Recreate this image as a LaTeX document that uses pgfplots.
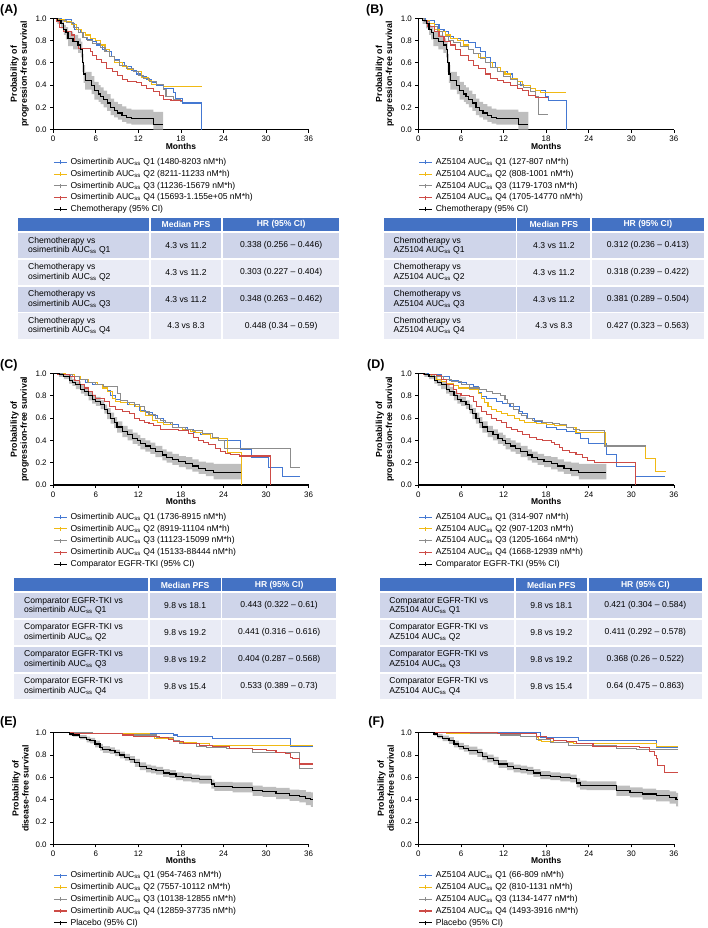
\documentclass[border=0pt]{standalone}
\usepackage{pgfplots}
\usepackage{pgfplotstable}
\pgfplotsset{compat=1.18}
\usepgfplotslibrary{fillbetween}
\usepackage{fontspec}
\setmainfont{Liberation Sans}
\definecolor{kmblue}{RGB}{68,120,210}
\definecolor{kmyellow}{RGB}{240,185,20}
\definecolor{kmgray}{RGB}{140,140,140}
\definecolor{kmred}{RGB}{205,75,70}
\definecolor{cigray}{RGB}{190,190,190}
\definecolor{hdrblue}{RGB}{68,114,196}
\definecolor{rowA}{RGB}{207,213,234}
\definecolor{rowB}{RGB}{233,235,245}
\newcommand{\auc}{AUC\textsubscript{ss}}
\newcommand{\tabfont}{\fontsize{8.6}{9.4}\selectfont}
\newcommand{\tableframe}[1]{%
 \fill[hdrblue] (\tx,#1) rectangle (\ta,#1+13.3);
 \fill[hdrblue] (\ta+1.7,#1) rectangle (\tb,#1+13.3);
 \fill[hdrblue] (\tb+1.7,#1) rectangle (\tc,#1+13.3);
 \node[white,font=\bfseries\tabfont,inner sep=0pt] at ({(\ta+1.7+\tb)/2},#1+6.9) {Median PFS};
 \node[white,font=\bfseries\tabfont,inner sep=0pt] at ({(\tb+1.7+\tc)/2},#1+6.9) {HR (95\% CI)};}
\newcommand{\trow}[5]{%
 \fill[#2] (\tx,#1) rectangle (\ta,#1+25.2);
 \fill[#2] (\ta+1.7,#1) rectangle (\tb,#1+25.2);
 \fill[#2] (\tb+1.7,#1) rectangle (\tc,#1+25.2);
 \node[anchor=west,align=left,font=\tabfont,inner sep=0pt] at (\ttx,#1+12.6) {#3};
 \node[font=\tabfont,inner sep=0pt] at ({(\ta+1.7+\tb)/2},#1+12.6) {#4};
 \node[font=\tabfont,inner sep=0pt] at ({(\tb+1.7+\tc)/2},#1+12.6) {#5};}
\pgfplotsset{
  kmline/.style={const plot, line width=1.05pt},
  km/.style={
    scale only axis, width=256pt, height=111.7pt,
    xmin=0, xmax=36, ymin=0, ymax=1,
    axis x line*=bottom, axis y line*=left,
    axis line style={line width=1.2pt},
    tick align=outside, major tick length=3pt,
    tick style={line width=0.8pt, black},
    xtick={0,6,...,36}, ytick={0,0.2,0.4,0.6,0.8,1},
    y tick label style={/pgf/number format/.cd, fixed, fixed zerofill, precision=1, /tikz/.cd},
    ticklabel style={font=\fontsize{8}{9}\selectfont},
    /pgf/number format/assume math mode=true,
    xlabel={Months},
    xlabel style={font=\bfseries\fontsize{8.5}{10}\selectfont, at={(axis description cs:0.5,-0.148)}, anchor=center},
    ylabel style={font=\bfseries\fontsize{8.8}{10}\selectfont, align=center},
    clip=false,
    legend cell align=left,
    legend image code/.code={\draw[##1] (0pt,0pt) -- (13pt,0pt); \draw[##1, line width=0.6pt] (6.5pt,-2pt) -- (6.5pt,2pt);},
    legend style={draw=none, fill=none, font=\fontsize{8.6}{10}\selectfont, anchor=north west, inner sep=0pt, row sep=1.3pt, column sep=2pt, nodes={inner sep=1pt, text height=6.5pt, text depth=2pt}},
  },
}
% ---------------- data: reference arm curves (t, survival, lower CI, upper CI) ----------------
\pgfplotstableread{
t s lo up
0 1 1 1
0.6 0.98 0.95 1
1.1 0.95 0.91 0.98
1.5 0.9 0.85 0.94
1.8 0.87 0.81 0.92
2.1 0.82 0.75 0.88
2.8 0.79 0.72 0.85
3.5 0.76 0.69 0.82
3.9 0.72 0.65 0.79
4.1 0.6 0.52 0.68
4.3 0.5 0.42 0.58
4.5 0.44 0.36 0.52
5.4 0.4 0.32 0.48
5.8 0.35 0.27 0.43
6.4 0.32 0.25 0.4
6.7 0.3 0.23 0.38
7.1 0.27 0.2 0.35
7.6 0.24 0.17 0.32
8.1 0.2 0.13 0.28
8.6 0.17 0.11 0.25
9.1 0.15 0.09 0.23
9.7 0.13 0.07 0.21
10.3 0.11 0.055 0.19
11 0.1 0.045 0.18
14.1 0.05 0 0.16
15.5 0.05 0 0.16
}\chemo
\pgfplotstableread{
t s lo up
0 1 1 1
0.85 0.99 0.97 1
1.5 0.97 0.95 0.99
2.25 0.94 0.91 0.97
2.7 0.92 0.89 0.95
3.2 0.9 0.86 0.93
3.9 0.86 0.82 0.9
4.4 0.84 0.8 0.88
5 0.8 0.76 0.84
5.5 0.77 0.73 0.81
6 0.75 0.71 0.79
6.7 0.72 0.68 0.76
7.2 0.68 0.64 0.72
7.6 0.64 0.59 0.69
8.1 0.6 0.55 0.65
8.6 0.56 0.51 0.61
9 0.52 0.47 0.57
9.75 0.48 0.43 0.53
10.5 0.45 0.4 0.5
11.2 0.42 0.37 0.47
11.9 0.4 0.35 0.45
12.3 0.37 0.32 0.42
13 0.35 0.3 0.4
13.7 0.33 0.28 0.38
14.4 0.3 0.25 0.35
15.4 0.27 0.22 0.32
16 0.25 0.2 0.3
16.8 0.23 0.18 0.28
17.7 0.21 0.16 0.26
18.7 0.19 0.14 0.25
19.6 0.17 0.12 0.23
20.5 0.15 0.1 0.21
21.5 0.13 0.08 0.2
22.6 0.11 0.05 0.19
26.5 0.11 0.05 0.19
}\comp
\pgfplotstableread{
t s lo up
0 1 1 1
2.3 0.99 0.975 1
2.8 0.98 0.965 0.995
3.75 0.96 0.94 0.98
4.7 0.94 0.915 0.965
5.2 0.93 0.905 0.955
5.9 0.9 0.87 0.93
6.6 0.87 0.84 0.9
7 0.85 0.82 0.88
8 0.84 0.81 0.87
8.7 0.82 0.79 0.85
9.4 0.8 0.77 0.83
10.1 0.78 0.75 0.81
10.8 0.76 0.73 0.79
11.5 0.73 0.695 0.765
12.2 0.7 0.665 0.735
13.1 0.68 0.645 0.715
13.8 0.67 0.635 0.705
14.5 0.66 0.625 0.695
15.5 0.64 0.605 0.675
16.4 0.63 0.595 0.665
17.3 0.61 0.575 0.645
18.3 0.6 0.565 0.635
19.5 0.59 0.555 0.625
20.6 0.58 0.545 0.615
22.3 0.54 0.5 0.58
22.7 0.52 0.48 0.56
25.3 0.51 0.465 0.555
28.1 0.48 0.435 0.525
29.5 0.47 0.425 0.515
31.4 0.455 0.405 0.505
33.3 0.44 0.39 0.49
34.7 0.43 0.375 0.485
35.6 0.41 0.35 0.47
36.3 0.4 0.335 0.465
36.6 0.4 0.335 0.465
}\placE
\pgfplotstableread{
t s lo up
0 1 1 1
2.2 0.99 0.975 1
2.7 0.97 0.95 0.99
3.4 0.95 0.925 0.975
4.3 0.93 0.9 0.96
5 0.9 0.87 0.93
5.7 0.88 0.85 0.91
6.4 0.86 0.83 0.89
7.1 0.84 0.805 0.875
8.3 0.82 0.785 0.855
9 0.79 0.755 0.825
9.7 0.77 0.735 0.805
10.6 0.75 0.715 0.785
11.3 0.72 0.685 0.755
12.5 0.7 0.665 0.735
13.4 0.68 0.645 0.715
14.4 0.67 0.635 0.705
15.3 0.66 0.625 0.695
16.2 0.64 0.605 0.675
17.2 0.62 0.585 0.655
18.6 0.61 0.575 0.645
20 0.6 0.565 0.635
21.4 0.59 0.555 0.625
22.3 0.55 0.51 0.59
22.8 0.53 0.49 0.57
23.7 0.525 0.485 0.565
27.9 0.48 0.435 0.525
29.8 0.465 0.42 0.51
31.6 0.45 0.4 0.5
33.5 0.435 0.385 0.485
35.4 0.42 0.365 0.475
36.3 0.4 0.34 0.46
36.6 0.4 0.335 0.46
}\placF
\begin{document}
\begin{tikzpicture}
\path (0,0) rectangle (709pt,-928pt);
% ================= (A) =================
\begin{axis}[km, at={(53.3pt,-130pt)}, anchor=south west,
  ylabel={Probability of\\progression-free survival},
  legend style={at={(0,-0.243)}}]
\addplot[name path=ua, draw=none, const plot, forget plot] table[x=t,y=up] {\chemo};
\addplot[name path=la, draw=none, const plot, forget plot] table[x=t,y=lo] {\chemo};
\addplot[fill=cigray, draw=none, forget plot] fill between[of=ua and la];
\addplot[kmline, kmblue] coordinates {(0,1) (1.2,0.99) (2.6,0.95) (3,0.9) (3.8,0.87) (4.2,0.83) (4.7,0.81) (5.6,0.79) (6.1,0.76) (7,0.72) (7.5,0.7) (8.2,0.66) (8.7,0.63) (9.4,0.6) (10.1,0.57) (11,0.53) (11.7,0.5) (12.4,0.48) (13.1,0.45) (13.8,0.42) (14.5,0.4) (15.5,0.37) (16.9,0.33) (17.3,0.28) (18.2,0.24) (20.9,0.24) (20.9,0)};
\addlegendentry{Osimertinib \auc{} Q1 (1480-8203 nM*h)}
\addplot[kmline, kmyellow] coordinates {(0,1) (0.7,0.99) (1.6,0.97) (2.6,0.94) (3.3,0.9) (4,0.87) (4.5,0.85) (5.2,0.82) (5.9,0.8) (6.6,0.76) (7.3,0.72) (8,0.66) (8.7,0.6) (9.8,0.57) (10.5,0.54) (11.3,0.52) (12.4,0.47) (13.4,0.44) (13.8,0.41) (15.5,0.39) (20.9,0.39)};
\addlegendentry{Osimertinib \auc{} Q2 (8211-11233 nM*h)}
\addplot[kmline, kmgray] coordinates {(0,1) (0.9,0.98) (1.9,0.96) (2.8,0.92) (3.5,0.87) (4.2,0.83) (4.9,0.8) (5.6,0.77) (6.6,0.74) (7.3,0.7) (8,0.66) (8.7,0.62) (9.4,0.58) (10.3,0.55) (11.3,0.52) (12,0.49) (12.7,0.46) (13.6,0.43) (14.5,0.41) (15.5,0.36) (15.9,0.3) (16.9,0.27) (18,0.25) (18.2,0.25)};
\addlegendentry{Osimertinib \auc{} Q3 (11236-15679 nM*h)}
\addplot[kmline, kmred] coordinates {(0,1) (0.5,0.97) (0.9,0.92) (1.4,0.88) (2.6,0.85) (3,0.79) (3.5,0.73) (5.2,0.7) (5.6,0.67) (6.1,0.63) (6.8,0.6) (7.5,0.55) (8.4,0.52) (9.1,0.49) (9.8,0.45) (10.5,0.43) (11.7,0.42) (12.4,0.4) (13.1,0.37) (14.1,0.34) (15,0.31) (15.5,0.27) (16.6,0.26) (18.2,0.26)};
\addlegendentry{Osimertinib \auc{} Q4 (15693-1.155e+05 nM*h)}
\addplot[kmline, black, line width=1.2pt] table[x=t,y=s] {\chemo};
\addlegendentry{Chemotherapy (95\% CI)}
\end{axis}
% ================= (B) =================
\begin{axis}[km, at={(419.3pt,-130pt)}, anchor=south west,
  ylabel={Probability of\\progression-free survival},
  legend style={at={(0,-0.243)}}]
\addplot[name path=ub, draw=none, const plot, forget plot] table[x=t,y=up] {\chemo};
\addplot[name path=lb, draw=none, const plot, forget plot] table[x=t,y=lo] {\chemo};
\addplot[fill=cigray, draw=none, forget plot] fill between[of=ub and lb];
\addplot[kmline, kmblue] coordinates {(0,1) (1,0.98) (2.2,0.94) (2.9,0.9) (3.6,0.88) (4.3,0.84) (5,0.82) (5.9,0.8) (7.1,0.78) (8,0.74) (8.7,0.7) (9.4,0.65) (10.1,0.6) (10.8,0.56) (11.5,0.52) (12.5,0.5) (13.2,0.46) (13.9,0.43) (14.4,0.4) (15.8,0.37) (16.5,0.35) (17.9,0.3) (18.3,0.26) (20.8,0.26) (20.8,0)};
\addlegendentry{AZ5104 \auc{} Q1 (127-807 nM*h)}
\addplot[kmline, kmyellow] coordinates {(0,1) (0.8,0.98) (1.5,0.95) (2.2,0.9) (2.9,0.88) (3.8,0.85) (4.5,0.82) (5.5,0.8) (6.4,0.76) (7.1,0.72) (7.8,0.68) (8.5,0.65) (9.4,0.6) (10.4,0.56) (11.5,0.52) (12.2,0.5) (13,0.46) (13.9,0.43) (14.6,0.4) (15.8,0.37) (16.5,0.35) (17.2,0.33) (20.8,0.33)};
\addlegendentry{AZ5104 \auc{} Q2 (808-1001 nM*h)}
\addplot[kmline, kmgray] coordinates {(0,1) (0.8,0.97) (1.5,0.93) (2.7,0.88) (3.4,0.84) (4.3,0.8) (5,0.78) (5.9,0.75) (7.1,0.72) (7.8,0.68) (8.7,0.64) (9.4,0.6) (10.1,0.56) (11.1,0.52) (12,0.48) (13,0.45) (13.9,0.41) (14.8,0.38) (15.8,0.34) (16.5,0.3) (16.9,0.14) (18.3,0.14)};
\addlegendentry{AZ5104 \auc{} Q3 (1179-1703 nM*h)}
\addplot[kmline, kmred] coordinates {(0,1) (0.6,0.98) (1.3,0.93) (2.2,0.88) (2.9,0.84) (3.6,0.79) (4.5,0.76) (5.2,0.72) (5.9,0.67) (7.1,0.62) (7.8,0.58) (8.5,0.55) (9.4,0.5) (10.1,0.46) (11.1,0.44) (12,0.42) (13,0.4) (13.9,0.37) (14.6,0.35) (15.5,0.31) (16.5,0.29) (18.3,0.29)};
\addlegendentry{AZ5104 \auc{} Q4 (1705-14770 nM*h)}
\addplot[kmline, black, line width=1.2pt] table[x=t,y=s] {\chemo};
\addlegendentry{Chemotherapy (95\% CI)}
\end{axis}
% ================= (C) =================
\begin{axis}[km, at={(53.3pt,-486pt)}, anchor=south west,
  ylabel={Probability of\\progression-free survival},
  legend style={at={(0,-0.24)}}]
\addplot[name path=uc, draw=none, const plot, forget plot] table[x=t,y=up] {\comp};
\addplot[name path=lc, draw=none, const plot, forget plot] table[x=t,y=lo] {\comp};
\addplot[fill=cigray, draw=none, forget plot] fill between[of=uc and lc];
\addplot[kmline, kmblue] coordinates {(0,1) (1.3,0.99) (2.5,0.97) (3.7,0.95) (4.6,0.92) (5.5,0.9) (6.9,0.88) (7.6,0.85) (8.1,0.8) (8.8,0.77) (9.5,0.74) (10.5,0.72) (11.4,0.7) (12.1,0.67) (13,0.65) (14,0.62) (14.7,0.6) (15.6,0.56) (16.5,0.54) (17.7,0.52) (18.9,0.5) (19.8,0.47) (20.8,0.45) (22.2,0.42) (23.3,0.4) (26.4,0.32) (28,0.25) (30.4,0.16) (32.3,0.08) (34.8,0.08)};
\addlegendentry{Osimertinib \auc{} Q1 (1736-8915 nM*h)}
\addplot[kmline, kmyellow] coordinates {(0,1) (1.8,0.99) (3,0.97) (3.9,0.95) (5,0.92) (6.2,0.9) (6.9,0.87) (7.6,0.84) (8.3,0.78) (8.8,0.75) (9.5,0.74) (10.7,0.72) (11.6,0.7) (12.3,0.66) (13,0.62) (14,0.58) (14.7,0.56) (15.6,0.54) (16.8,0.52) (18.2,0.5) (19.4,0.48) (20.1,0.47) (21,0.45) (22.2,0.42) (24.5,0.29) (26.5,0.29) (26.5,0)};
\addlegendentry{Osimertinib \auc{} Q2 (8919-11104 nM*h)}
\addplot[kmline, kmgray] coordinates {(0,1) (1.3,0.99) (2.7,0.97) (3.7,0.95) (4.8,0.92) (6,0.9) (7.1,0.88) (9,0.82) (9.5,0.76) (10.5,0.74) (11.4,0.72) (12.1,0.7) (12.8,0.66) (13.5,0.63) (14.4,0.6) (15.1,0.58) (15.8,0.56) (16.8,0.52) (18.7,0.5) (19.6,0.49) (21,0.46) (22.4,0.43) (23.3,0.4) (24.2,0.33) (33.4,0.33) (33.4,0.16) (34.8,0.16)};
\addlegendentry{Osimertinib \auc{} Q3 (11123-15099 nM*h)}
\addplot[kmline, kmred] coordinates {(0,1) (0.6,0.99) (2.25,0.97) (3,0.94) (3.7,0.9) (4.4,0.87) (5,0.84) (5.5,0.8) (6,0.78) (7.2,0.75) (7.9,0.7) (8.8,0.68) (9.75,0.66) (10.7,0.64) (11.4,0.6) (12.1,0.58) (12.8,0.56) (13.5,0.55) (14.2,0.53) (15.1,0.5) (17.7,0.49) (19.1,0.46) (19.8,0.43) (20.5,0.4) (21.2,0.38) (21.9,0.36) (22.9,0.33) (23.6,0.3) (24.3,0.28) (25,0.27) (26.2,0.26) (30.6,0.26) (30.6,0)};
\addlegendentry{Osimertinib \auc{} Q4 (15133-88444 nM*h)}
\addplot[kmline, black, line width=1.2pt] table[x=t,y=s] {\comp};
\addlegendentry{Comparator EGFR-TKI (95\% CI)}
\end{axis}
% ================= (D) =================
\begin{axis}[km, at={(419.3pt,-486pt)}, anchor=south west,
  ylabel={Probability of\\progression-free survival},
  legend style={at={(0,-0.24)}}]
\addplot[name path=ud, draw=none, const plot, forget plot] table[x=t,y=up] {\comp};
\addplot[name path=ld, draw=none, const plot, forget plot] table[x=t,y=lo] {\comp};
\addplot[fill=cigray, draw=none, forget plot] fill between[of=ud and ld];
\addplot[kmline, kmblue] coordinates {(0,1) (1.4,0.99) (3.2,0.97) (4.4,0.94) (5.6,0.92) (6.8,0.9) (7.7,0.88) (8.4,0.83) (8.9,0.79) (9.6,0.78) (11,0.75) (11.9,0.73) (12.9,0.7) (14.2,0.66) (14.7,0.64) (15.4,0.6) (16.4,0.57) (17.3,0.55) (18,0.52) (19.4,0.5) (20.8,0.48) (22.2,0.46) (22.8,0.42) (24,0.37) (26.5,0.27) (27.9,0.17) (30.6,0.08) (34.8,0.08)};
\addlegendentry{AZ5104 \auc{} Q1 (314-907 nM*h)}
\addplot[kmline, kmyellow] coordinates {(0,1) (0.7,0.99) (1.9,0.97) (2.6,0.95) (3.3,0.93) (4,0.91) (4.9,0.89) (5.6,0.87) (7.2,0.86) (8.4,0.82) (8.9,0.78) (9.3,0.74) (9.8,0.7) (10.3,0.68) (11,0.66) (11.7,0.64) (12.6,0.62) (13.6,0.6) (14.3,0.58) (15,0.56) (16.6,0.55) (18,0.54) (19.2,0.53) (20.8,0.52) (22.2,0.47) (26.4,0.35) (32,0.24) (33.4,0.12) (34.9,0.12)};
\addlegendentry{AZ5104 \auc{} Q2 (907-1203 nM*h)}
\addplot[kmline, kmgray] coordinates {(0,1) (1.2,0.99) (2.3,0.97) (3.5,0.95) (4.7,0.93) (6.1,0.9) (7.2,0.87) (8.6,0.86) (9.6,0.84) (10.5,0.82) (11.5,0.8) (12.2,0.77) (12.6,0.73) (13.4,0.68) (14.1,0.64) (14.5,0.62) (15.2,0.6) (16.1,0.58) (17.5,0.56) (18.9,0.55) (19.9,0.54) (20.8,0.52) (21.8,0.5) (22.7,0.49) (26.2,0.35) (32.1,0.35)};
\addlegendentry{AZ5104 \auc{} Q3 (1205-1664 nM*h)}
\addplot[kmline, kmred] coordinates {(0,1) (0.7,0.99) (2.6,0.98) (3.3,0.95) (4,0.9) (4.9,0.86) (5.4,0.82) (6,0.8) (7.2,0.79) (7.7,0.75) (8.2,0.7) (8.9,0.66) (9.6,0.63) (10.3,0.6) (11,0.58) (11.7,0.56) (12.4,0.52) (13.1,0.5) (14,0.48) (14.7,0.45) (15.7,0.43) (16.6,0.41) (17.5,0.4) (18.7,0.38) (19.2,0.36) (19.9,0.34) (20.3,0.31) (21.3,0.29) (22.2,0.27) (23.1,0.25) (23.8,0.22) (24.8,0.2) (30.6,0.2) (30.6,0)};
\addlegendentry{AZ5104 \auc{} Q4 (1668-12939 nM*h)}
\addplot[kmline, black, line width=1.2pt] table[x=t,y=s] {\comp};
\addlegendentry{Comparator EGFR-TKI (95\% CI)}
\end{axis}
% ================= (E) =================
\begin{axis}[km, at={(53.3pt,-846pt)}, anchor=south west,
  ylabel={Probability of\\disease-free survival},
  legend style={at={(0,-0.233)}}]
\addplot[name path=ue, draw=none, const plot, forget plot] table[x=t,y=up] {\placE};
\addplot[name path=le, draw=none, const plot, forget plot] table[x=t,y=lo] {\placE};
\addplot[fill=cigray, draw=none, forget plot] fill between[of=ue and le];
\addplot[kmline, kmblue] coordinates {(0,1) (5,0.99) (16.9,0.98) (17.5,0.97) (22.5,0.945) (33.5,0.873) (36.6,0.873)};
\addlegendentry{Osimertinib \auc{} Q1 (954-7463 nM*h)}
\addplot[kmline, kmyellow] coordinates {(0,1) (4,0.99) (13.6,0.97) (14.3,0.95) (16.9,0.92) (17.8,0.91) (20.2,0.9) (22,0.89) (36.6,0.89)};
\addlegendentry{Osimertinib \auc{} Q2 (7557-10112 nM*h)}
\addplot[kmline, kmgray] coordinates {(0,1) (5.6,0.99) (9.8,0.98) (14.5,0.96) (16.9,0.93) (17.8,0.9) (20.2,0.88) (21.6,0.87) (24.4,0.86) (28.1,0.82) (34.7,0.68) (36.6,0.68)};
\addlegendentry{Osimertinib \auc{} Q3 (10138-12855 nM*h)}
\addplot[kmline, kmred] coordinates {(0,1) (2.8,0.99) (9.8,0.98) (11.25,0.97) (15,0.96) (16.2,0.94) (16.9,0.92) (18.3,0.9) (20.6,0.89) (22.5,0.88) (24.8,0.86) (28.1,0.85) (30,0.84) (31.4,0.82) (32.8,0.81) (33.5,0.78) (33.75,0.77) (34.7,0.72) (36.6,0.72)};
\addlegendentry{Osimertinib \auc{} Q4 (12859-37735 nM*h)}
\addplot[kmline, black, line width=1.2pt] table[x=t,y=s] {\placE};
\addlegendentry{Placebo (95\% CI)}
\end{axis}
% ================= (F) =================
\begin{axis}[km, at={(419.3pt,-846pt)}, anchor=south west,
  ylabel={Probability of\\disease-free survival},
  legend style={at={(0,-0.233)}}]
\addplot[name path=uf, draw=none, const plot, forget plot] table[x=t,y=up] {\placF};
\addplot[name path=lf, draw=none, const plot, forget plot] table[x=t,y=lo] {\placF};
\addplot[fill=cigray, draw=none, forget plot] fill between[of=uf and lf];
\addplot[kmline, kmblue] coordinates {(0,1) (17.2,0.96) (22.5,0.93) (33.5,0.87) (36.6,0.87)};
\addlegendentry{AZ5104 \auc{} Q1 (66-809 nM*h)}
\addplot[kmline, kmyellow] coordinates {(0,1) (4,0.99) (16.7,0.96) (16.9,0.93) (17.4,0.92) (19,0.91) (21.8,0.9) (33.5,0.88) (36.6,0.88)};
\addlegendentry{AZ5104 \auc{} Q2 (810-1131 nM*h)}
\addplot[kmline, kmgray] coordinates {(0,1) (7.3,0.99) (11.5,0.98) (14.4,0.97) (16.7,0.94) (18.6,0.91) (21.1,0.89) (27.9,0.86) (30.7,0.85) (36.6,0.85)};
\addlegendentry{AZ5104 \auc{} Q3 (1134-1477 nM*h)}
\addplot[kmline, kmred] coordinates {(0,1) (11.1,0.99) (16.7,0.97) (18,0.95) (19,0.93) (20.9,0.92) (22.3,0.9) (24.6,0.88) (31.2,0.87) (32.6,0.83) (33.2,0.8) (33.5,0.77) (33.7,0.71) (34.7,0.64) (36.6,0.64)};
\addlegendentry{AZ5104 \auc{} Q4 (1493-3916 nM*h)}
\addplot[kmline, black, line width=1.2pt] table[x=t,y=s] {\placF};
\addlegendentry{Placebo (95\% CI)}
\end{axis}
% ================= labels and tables =================
\begin{scope}[x=1pt,y=-1pt]
\node[font=\bfseries\fontsize{12.5}{14}\selectfont, anchor=west, inner sep=0pt] at (0,9.8) {(A)};
\node[font=\bfseries\fontsize{12.5}{14}\selectfont, anchor=west, inner sep=0pt] at (366.7,9.8) {(B)};
\node[font=\bfseries\fontsize{12.5}{14}\selectfont, anchor=west, inner sep=0pt] at (0,365.8) {(C)};
\node[font=\bfseries\fontsize{12.5}{14}\selectfont, anchor=west, inner sep=0pt] at (367.7,365.8) {(D)};
\node[font=\bfseries\fontsize{12.5}{14}\selectfont, anchor=west, inner sep=0pt] at (0,723.5) {(E)};
\node[font=\bfseries\fontsize{12.5}{14}\selectfont, anchor=west, inner sep=0pt] at (369,723.5) {(F)};
% table A
\def\tx{17.7}\def\ta{149.3}\def\tb{221.7}\def\tc{340}\def\ttx{28}
\tableframe{218.3}
\trow{233.3}{rowA}{Chemotherapy vs\\osimertinib \auc{} Q1}{4.3 vs 11.2}{0.338 (0.256 -- 0.446)}
\trow{260.2}{rowB}{Chemotherapy vs\\osimertinib \auc{} Q2}{4.3 vs 11.2}{0.303 (0.227 -- 0.404)}
\trow{287.1}{rowA}{Chemotherapy vs\\osimertinib \auc{} Q3}{4.3 vs 11.2}{0.348 (0.263 -- 0.462)}
\trow{314}{rowB}{Chemotherapy vs\\osimertinib \auc{} Q4}{4.3 vs 8.3}{0.448 (0.34 -- 0.59)}
% table B
\def\tx{385}\def\ta{516.7}\def\tb{591.7}\def\tc{705}\def\ttx{394.3}
\tableframe{218.3}
\trow{233.3}{rowA}{Chemotherapy vs\\AZ5104 \auc{} Q1}{4.3 vs 11.2}{0.312 (0.236 -- 0.413)}
\trow{260.2}{rowB}{Chemotherapy vs\\AZ5104 \auc{} Q2}{4.3 vs 11.2}{0.318 (0.239 -- 0.422)}
\trow{287.1}{rowA}{Chemotherapy vs\\AZ5104 \auc{} Q3}{4.3 vs 11.2}{0.381 (0.289 -- 0.504)}
\trow{314}{rowB}{Chemotherapy vs\\AZ5104 \auc{} Q4}{4.3 vs 8.3}{0.427 (0.323 -- 0.563)}
% table C
\def\tx{14}\def\ta{148.3}\def\tb{221}\def\tc{336.7}\def\ttx{24}
\tableframe{579.3}
\trow{594.3}{rowA}{Comparator EGFR-TKI vs\\osimertinib \auc{} Q1}{9.8 vs 18.1}{0.443 (0.322 -- 0.61)}
\trow{621.2}{rowB}{Comparator EGFR-TKI vs\\osimertinib \auc{} Q2}{9.8 vs 19.2}{0.441 (0.316 -- 0.616)}
\trow{648.1}{rowA}{Comparator EGFR-TKI vs\\osimertinib \auc{} Q3}{9.8 vs 19.2}{0.404 (0.287 -- 0.568)}
\trow{675}{rowB}{Comparator EGFR-TKI vs\\osimertinib \auc{} Q4}{9.8 vs 15.4}{0.533 (0.389 -- 0.73)}
% table D
\def\tx{381}\def\ta{515}\def\tb{588.3}\def\tc{703.3}\def\ttx{390}
\tableframe{579.3}
\trow{594.3}{rowA}{Comparator EGFR-TKI vs\\AZ5104 \auc{} Q1}{9.8 vs 18.1}{0.421 (0.304 -- 0.584)}
\trow{621.2}{rowB}{Comparator EGFR-TKI vs\\AZ5104 \auc{} Q2}{9.8 vs 19.2}{0.411 (0.292 -- 0.578)}
\trow{648.1}{rowA}{Comparator EGFR-TKI vs\\AZ5104 \auc{} Q3}{9.8 vs 19.2}{0.368 (0.26 -- 0.522)}
\trow{675}{rowB}{Comparator EGFR-TKI vs\\AZ5104 \auc{} Q4}{9.8 vs 15.4}{0.64 (0.475 -- 0.863)}
\end{scope}
\end{tikzpicture}
\end{document}
